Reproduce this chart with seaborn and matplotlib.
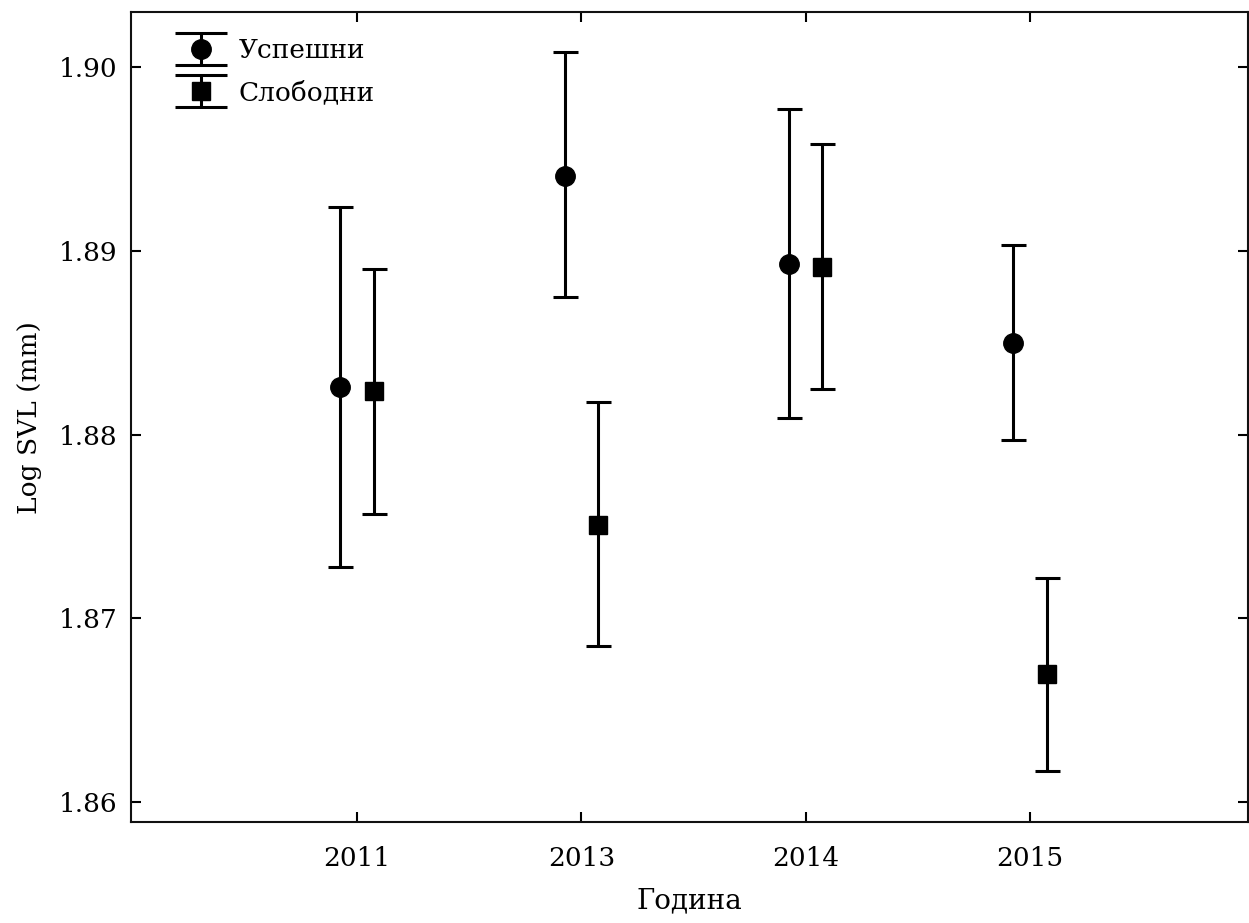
import numpy as np
import pandas as pd
import matplotlib.pyplot as plt
import seaborn as sns
from matplotlib.lines import Line2D
from matplotlib.container import ErrorbarContainer
from matplotlib.legend_handler import HandlerErrorbar

years = ["2011", "2013", "2014", "2015"]
groups = ["Успешни", "Слободни"]

# means and interval ends
uspesni_mean = [1.8826, 1.8941, 1.8893, 1.8850]
uspesni_low = [1.8728, 1.8875, 1.8809, 1.8797]
uspesni_high = [1.8924, 1.9008, 1.8977, 1.8903]

slobodni_mean = [1.8824, 1.8751, 1.8891, 1.8670]
slobodni_low = [1.8757, 1.8685, 1.8825, 1.8617]
slobodni_high = [1.8890, 1.8818, 1.8958, 1.8722]

df = pd.DataFrame({
    "year": years * 2,
    "group": [groups[0]] * 4 + [groups[1]] * 4,
    "mean": uspesni_mean + slobodni_mean,
    "low": uspesni_low + slobodni_low,
    "high": uspesni_high + slobodni_high,
})

sns.set_theme(style="ticks")
plt.rcParams["font.family"] = ["DejaVu Serif"]
plt.rcParams["text.color"] = "black"
plt.rcParams["axes.labelcolor"] = "black"

fig = plt.figure(figsize=(12.49, 9.23), dpi=100)
ax = fig.add_axes([0.105, 0.109, 0.894, 0.878])

offsets = {groups[0]: -0.075, groups[1]: 0.075}
markers = {groups[0]: "o", groups[1]: "s"}
sizes = {groups[0]: 14, groups[1]: 13}

for g in groups:
    d = df[df["group"] == g]
    x = np.arange(len(years)) + offsets[g]
    err = [d["mean"] - d["low"], d["high"] - d["mean"]]
    ax.errorbar(x, d["mean"], yerr=err, fmt=markers[g], color="black",
                ms=sizes[g], elinewidth=2.2, capsize=9, capthick=2.2, label=g)

ax.set_xlim(-1.008, 3.972)
ax.set_ylim(1.8589, 1.9030)
ax.set_xticks(range(len(years)))
ax.set_xticklabels(years)
ax.set_yticks([1.86, 1.87, 1.88, 1.89, 1.90])
ax.set_yticklabels(["1.86", "1.87", "1.88", "1.89", "1.90"])

for s in ax.spines.values():
    s.set_linewidth(1.5)
    s.set_color("#111111")
ax.tick_params(direction="in", length=7, width=1.5, top=True, right=True,
               labelsize=19, colors="black")
ax.tick_params(axis="x", pad=17)
ax.tick_params(axis="y", pad=10)

ax.set_xlabel("Година", fontsize=20, labelpad=12)
ax.set_ylabel("Log SVL (mm)", fontsize=19, labelpad=12)


def big_caps(legend_handle, orig_handle):
    legend_handle.update_from(orig_handle)
    if isinstance(orig_handle, Line2D) and orig_handle.get_marker() == "_":
        legend_handle.set_markersize(38)


ax.legend(loc="upper left", frameon=False, fontsize=19, numpoints=1,
          handlelength=2.0, handletextpad=0.45, labelspacing=0.65,
          borderaxespad=0.6, bbox_to_anchor=(0.015, 1.0),
          handler_map={ErrorbarContainer: HandlerErrorbar(yerr_size=0.6,
                                                          update_func=big_caps)})

fig.savefig("out.png", dpi=100)
